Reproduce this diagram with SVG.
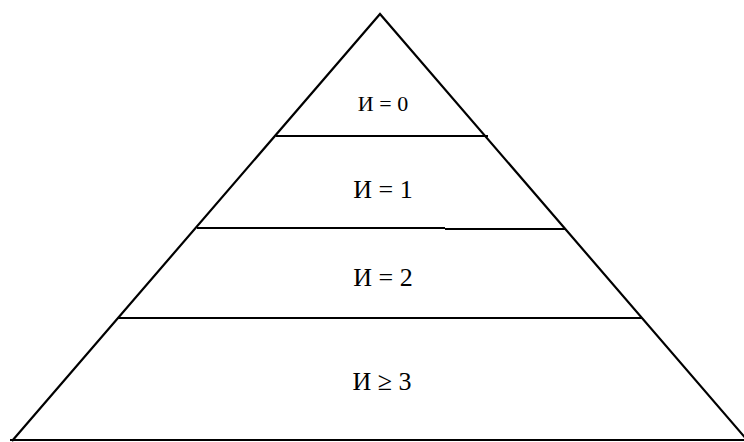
<svg xmlns="http://www.w3.org/2000/svg" width="744" height="442" viewBox="0 0 744 442">
<style>
.ln{stroke:#000;stroke-width:2.2;fill:none}
.t{fill:#000;text-anchor:middle;font-family:Liberation Serif,Times New Roman,Times,serif}
</style>
<rect width="744" height="442" fill="#fff"/>
<g id="pyramid">
<polyline class="ln" points="12,441 380,14 748,441"/>
<line class="ln" x1="10" y1="440" x2="744" y2="440" stroke="#333"/>
</g>
<g id="connectors">
<line class="ln" x1="276" y1="136" x2="488" y2="136"/>
<line class="ln" x1="197" y1="228" x2="445" y2="228"/>
<line class="ln" x1="445" y1="229" x2="566" y2="229"/>
<line class="ln" x1="118" y1="318" x2="642" y2="318"/>
</g>
<g id="level0"><text class="t" x="383" y="111" font-size="22">И = 0</text></g>
<g id="level1"><text class="t" x="383" y="198" font-size="26">И = 1</text></g>
<g id="level2"><text class="t" x="383" y="286" font-size="26">И = 2</text></g>
<g id="level3"><text class="t" x="382" y="390" font-size="26">И ≥ 3</text></g>
</svg>
